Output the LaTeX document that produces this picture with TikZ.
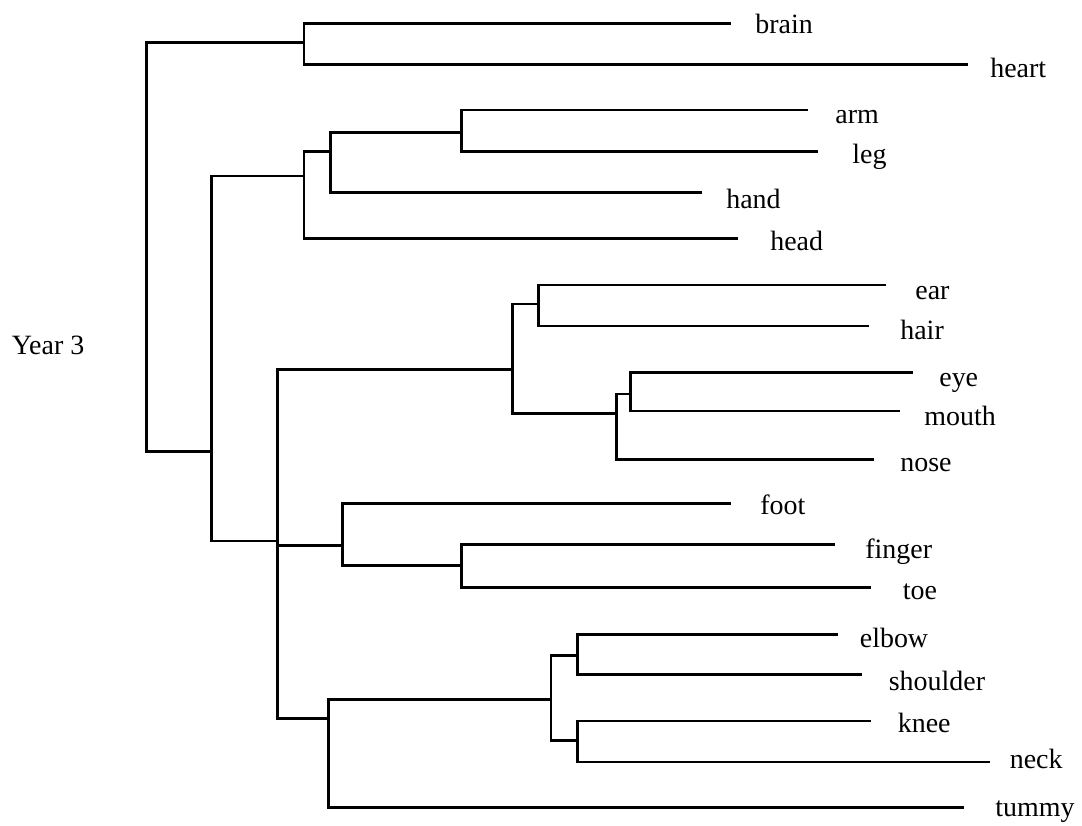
\documentclass[tikz,border=0pt]{standalone}
\usepackage{fontspec}
\setmainfont{Liberation Serif}
\usepackage{tikz}
\tikzstyle{leaf} = [anchor=base west, inner sep=0, font=\fontsize{15.9}{19}\selectfont]
\tikzstyle{branch} = [draw=black, line width=1.4pt]

\begin{document}
\begin{tikzpicture}
	\useasboundingbox (0, 0) rectangle (21.64, -16.52);

	\node (Year) [leaf] at (0.23, -7.10) {Year 3};

	% branch points
	\coordinate (Root) at (2.93, -4.50);
	\coordinate (BrainHeart) at (6.08, -0.85);
	\coordinate (Rest) at (4.23, -9.03);
	\coordinate (Limbs) at (6.08, -3.52);
	\coordinate (ArmLegHand) at (6.61, -3.03);
	\coordinate (ArmLeg) at (9.23, -2.65);
	\coordinate (Others) at (5.55, -10.82);
	\coordinate (Face) at (10.25, -7.39);
	\coordinate (EarHair) at (10.77, -6.08);
	\coordinate (EyeMouthNose) at (12.33, -8.27);
	\coordinate (EyeMouth) at (12.61, -7.88);
	\coordinate (FootGroup) at (6.85, -10.91);
	\coordinate (FingerToe) at (9.23, -11.31);
	\coordinate (Trunk) at (6.57, -14.37);
	\coordinate (Joints) at (11.02, -13.99);
	\coordinate (ElbowShoulder) at (11.55, -13.11);
	\coordinate (KneeNeck) at (11.55, -14.81);

	% leaves
	\coordinate (BrainEnd) at (14.62, -0.47);
	\node (Brain) [leaf] at (15.10, -0.67) {brain};
	\coordinate (HeartEnd) at (19.36, -1.29);
	\node (Heart) [leaf] at (19.80, -1.55) {heart};
	\coordinate (ArmEnd) at (16.16, -2.20);
	\node (Arm) [leaf] at (16.70, -2.47) {arm};
	\coordinate (LegEnd) at (16.36, -3.03);
	\node (Leg) [leaf] at (17.04, -3.27) {leg};
	\coordinate (HandEnd) at (14.04, -3.85);
	\node (Hand) [leaf] at (14.52, -4.17) {hand};
	\coordinate (HeadEnd) at (14.76, -4.77);
	\node (Head) [leaf] at (15.40, -5.01) {head};

	\coordinate (EarEnd) at (17.72, -5.70);
	\node (Ear) [leaf] at (18.30, -5.99) {ear};
	\coordinate (HairEnd) at (17.38, -6.52);
	\node (Hair) [leaf] at (18.00, -6.79) {hair};
	\coordinate (EyeEnd) at (18.25, -7.45);
	\node (Eye) [leaf] at (18.78, -7.73) {eye};
	\coordinate (MouthEnd) at (18.00, -8.22);
	\node (Mouth) [leaf] at (18.48, -8.52) {mouth};
	\coordinate (NoseEnd) at (17.48, -9.19);
	\node (Nose) [leaf] at (18.00, -9.43) {nose};

	\coordinate (FootEnd) at (14.62, -10.07);
	\node (Foot) [leaf] at (15.20, -10.30) {foot};
	\coordinate (FingerEnd) at (16.70, -10.89);
	\node (Finger) [leaf] at (17.30, -11.17) {finger};
	\coordinate (ToeEnd) at (17.42, -11.75);
	\node (Toe) [leaf] at (18.05, -11.99) {toe};

	\coordinate (ElbowEnd) at (16.75, -12.69);
	\node (Elbow) [leaf] at (17.19, -12.95) {elbow};
	\coordinate (ShoulderEnd) at (17.23, -13.49);
	\node (Shoulder) [leaf] at (17.77, -13.80) {shoulder};
	\coordinate (KneeEnd) at (17.42, -14.42);
	\node (Knee) [leaf] at (17.95, -14.65) {knee};
	\coordinate (NeckEnd) at (19.80, -15.24);
	\node (Neck) [leaf] at (20.19, -15.37) {neck};
	\coordinate (TummyEnd) at (19.27, -16.15);
	\node (Tummy) [leaf] at (19.90, -16.33) {tummy};

	% top of the tree
	\draw [branch] (BrainHeart) -| (Root) |- (Rest);
	\draw [branch] (BrainEnd) -| (BrainHeart) |- (HeartEnd);
	\draw [branch] (Limbs) -| (Rest) |- (Others);

	% arm, leg, hand, head
	\draw [branch] (ArmLegHand) -| (Limbs) |- (HeadEnd);
	\draw [branch] (ArmLeg) -| (ArmLegHand) |- (HandEnd);
	\draw [branch] (ArmEnd) -| (ArmLeg) |- (LegEnd);

	% face
	\draw [branch] (Face) -| (Others) |- (Trunk);
	\draw [branch] (Others) |- (FootGroup);
	\draw [branch] (EarHair) -| (Face) |- (EyeMouthNose);
	\draw [branch] (EarEnd) -| (EarHair) |- (HairEnd);
	\draw [branch] (EyeMouth) -| (EyeMouthNose) |- (NoseEnd);
	\draw [branch] (EyeEnd) -| (EyeMouth) |- (MouthEnd);

	% foot, finger, toe
	\draw [branch] (FootEnd) -| (FootGroup) |- (FingerToe);
	\draw [branch] (FingerEnd) -| (FingerToe) |- (ToeEnd);

	% joints and tummy
	\draw [branch] (Joints) -| (Trunk) |- (TummyEnd);
	\draw [branch] (ElbowShoulder) -| (Joints) |- (KneeNeck);
	\draw [branch] (ElbowEnd) -| (ElbowShoulder) |- (ShoulderEnd);
	\draw [branch] (KneeEnd) -| (KneeNeck) |- (NeckEnd);
\end{tikzpicture}
\end{document}
